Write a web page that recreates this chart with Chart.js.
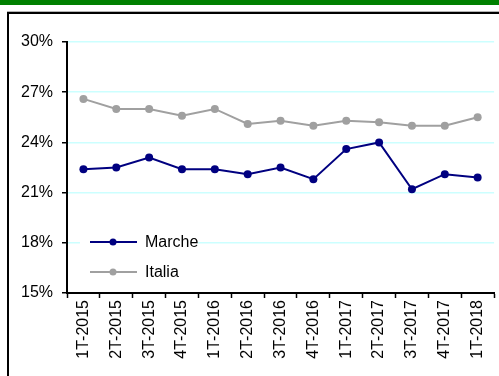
<!DOCTYPE html>
<html>
<head>
<meta charset="utf-8">
<script src="https://cdn.jsdelivr.net/npm/chart.js@4.4.1/dist/chart.umd.min.js"></script>
<style>
  html, body { margin: 0; padding: 0; background: #fff; }
  body { width: 499px; height: 376px; position: relative; overflow: hidden; }
  #band { position: absolute; left: 0; top: 0; width: 499px; height: 5px; background: #008000; }
  #rule { position: absolute; left: 7px; top: 11px; width: 500px; height: 1px; background: #b4b4b4; }
  #frame { position: absolute; left: 7px; top: 12px; width: 500px; height: 400px;
           border-left: 2px solid #000; border-top: 2px solid #000; }
  #myChart { position: absolute; left: 0; top: 0; }
</style>
</head>
<body>
<div id="band"></div>
<div id="rule"></div>
<div id="frame"></div>
<canvas id="myChart" width="499" height="376"></canvas>
<script>
const quarters = ['1T-2015', '2T-2015', '3T-2015', '4T-2015', '1T-2016', '2T-2016', '3T-2016',
                  '4T-2016', '1T-2017', '2T-2017', '3T-2017', '4T-2017', '1T-2018'];
const marche = [22.4, 22.5, 23.1, 22.4, 22.4, 22.1, 22.5, 21.8, 23.6, 24.0, 21.2, 22.1, 21.9];
const italia = [26.6, 26.0, 26.0, 25.6, 26.0, 25.1, 25.3, 25.0, 25.3, 25.2, 25.0, 25.0, 25.5];
const yMin = 15, yMax = 30, yStep = 3;

const FONT = { family: '"Liberation Sans", Arial, sans-serif', size: 16 };

// legend drawn inside the plot, lower left, on a white patch
const boxLegend = {
    id: 'boxLegend',
    afterDatasetsDraw(chart) {
        const c = chart.ctx;
        const a = chart.chartArea;
        const x0 = a.left + 13, y0 = a.top + 190;
        c.save();
        c.fillStyle = '#fff';
        c.fillRect(x0, y0 - 12, 118, 56);
        chart.data.datasets.forEach((ds, i) => {
            const y = y0 + 10 + i * 30;
            c.strokeStyle = ds.borderColor;
            c.lineWidth = 2;
            c.beginPath();
            c.moveTo(x0 + 10, y);
            c.lineTo(x0 + 57, y);
            c.stroke();
            c.fillStyle = ds.borderColor;
            c.beginPath();
            c.arc(x0 + 33, y, 3.5, 0, Math.PI * 2);
            c.fill();
            c.fillStyle = '#000';
            c.font = FONT.size + 'px ' + FONT.family;
            c.textBaseline = 'middle';
            c.fillText(ds.label, x0 + 65, y + 1);
        });
        c.restore();
    }
};

const ctx = document.getElementById('myChart').getContext('2d');
const myChart = new Chart(ctx, {
    type: 'line',
    data: {
        labels: quarters,
        datasets: [{
            label: 'Marche',
            data: marche,
            borderColor: '#000080',
            backgroundColor: '#000080',
            borderWidth: 2,
            pointRadius: 4,
            pointBorderWidth: 0,
            tension: 0,
            fill: false
        }, {
            label: 'Italia',
            data: italia,
            borderColor: '#a0a0a0',
            backgroundColor: '#a0a0a0',
            borderWidth: 2,
            pointRadius: 4,
            pointBorderWidth: 0,
            tension: 0,
            fill: false
        }]
    },
    plugins: [boxLegend],
    options: {
        responsive: false,
        animation: false,
        layout: { padding: { top: 42, right: 2, left: 0, bottom: 0 } },
        plugins: {
            legend: { display: false },
            tooltip: { enabled: false }
        },
        scales: {
            x: {
                offset: true,
                afterFit(scale) { scale.height = 83; },
                grid: {
                    offset: true,
                    drawOnChartArea: false,
                    tickColor: '#000',
                    tickLength: 5,
                    tickWidth: 1.5
                },
                border: { color: '#000', width: 2 },
                ticks: {
                    color: '#000',
                    font: FONT,
                    maxRotation: 90,
                    minRotation: 90,
                    padding: 2,
                    autoSkip: false
                }
            },
            y: {
                min: yMin,
                max: yMax,
                afterFit(scale) { scale.width = 67; },
                grid: {
                    color: '#ccffff',
                    lineWidth: 1.5,
                    tickColor: '#000',
                    tickLength: 5,
                    tickWidth: 1.5
                },
                border: { color: '#000', width: 2 },
                ticks: {
                    stepSize: yStep,
                    color: '#000',
                    font: FONT,
                    padding: 9,
                    callback: v => v + '%'
                }
            }
        }
    }
});
</script>
</body>
</html>
